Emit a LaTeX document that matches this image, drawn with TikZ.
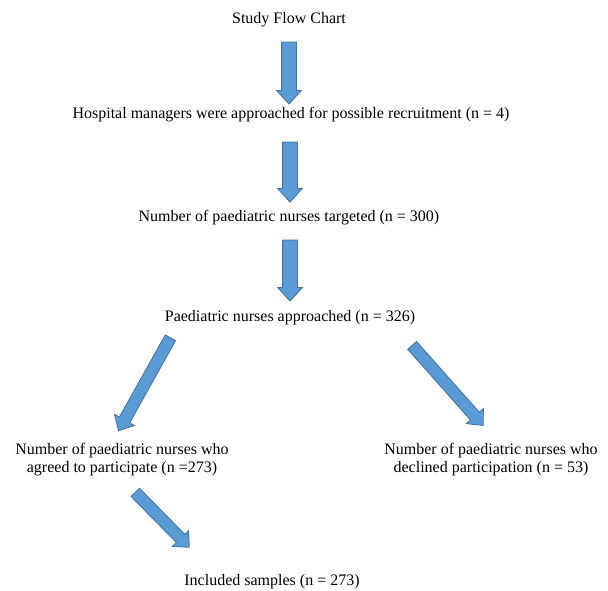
\documentclass[tikz,border=0pt]{standalone}
\usepackage{fontspec}
\setmainfont{Liberation Serif}
\usetikzlibrary{shapes.arrows,calc}
\definecolor{arrfill}{HTML}{5B9BD5}
\definecolor{arrline}{HTML}{41719C}
\tikzset{
  lbl/.style={font=\fontsize{16}{18}\selectfont, inner sep=0pt, align=center},
  barrow/.style={single arrow, fill=arrfill, draw=arrline, line width=0.8pt,
    inner xsep=0pt, inner ysep=7pt, single arrow head extend=5pt,
    single arrow tip angle=85},
  thin arrow/.style={inner ysep=5.5pt, single arrow head extend=5.5pt}
}
\newcommand{\blockarrow}[4][]{%
  \path let \p1=(#3), \p2=(#4), \n1={atan2(\y2-\y1,\x2-\x1)}, \n2={veclen(\x2-\x1,\y2-\y1)} in
    node[barrow, #1, rotate=\n1, minimum height=\n2] (#2) at ($(#3)!0.5!(#4)$) {};}
\begin{document}
\begin{tikzpicture}[x=1pt,y=-1pt]
\useasboundingbox (0,0) rectangle (608,590);
\node[lbl] (t0) at (289,20) {Study Flow Chart};
\node[lbl] (t1) at (291,115) {Hospital managers were approached for possible recruitment (n = 4)};
\node[lbl] (t2) at (289,218) {Number of paediatric nurses targeted (n = 300)};
\node[lbl] (t3) at (290,318) {Paediatric nurses approached (n = 326)};
\node[lbl] (t4) at (122,460) {Number of paediatric nurses who\\agreed to participate (n =273)};
\node[lbl] (t5) at (491,460) {Number of paediatric nurses who\\declined participation (n = 53)};
\node[lbl] (t6) at (272,582) {Included samples (n = 273)};
\coordinate (a1s) at (289,38);  \coordinate (a1e) at (289,100);
\coordinate (a2s) at (290,138); \coordinate (a2e) at (290,198);
\coordinate (a3s) at (290,236); \coordinate (a3e) at (290,297);
\coordinate (a4s) at (172,335); \coordinate (a4e) at (120,428);
\coordinate (a5s) at (410,343); \coordinate (a5e) at (481,423);
\coordinate (a6s) at (133,490); \coordinate (a6e) at (187,545);
\blockarrow{A1}{a1s}{a1e}
\blockarrow{A2}{a2s}{a2e}
\blockarrow{A3}{a3s}{a3e}
\blockarrow[thin arrow]{A4}{a4s}{a4e}
\blockarrow[thin arrow]{A5}{a5s}{a5e}
\blockarrow[thin arrow]{A6}{a6s}{a6e}
\end{tikzpicture}
\end{document}
